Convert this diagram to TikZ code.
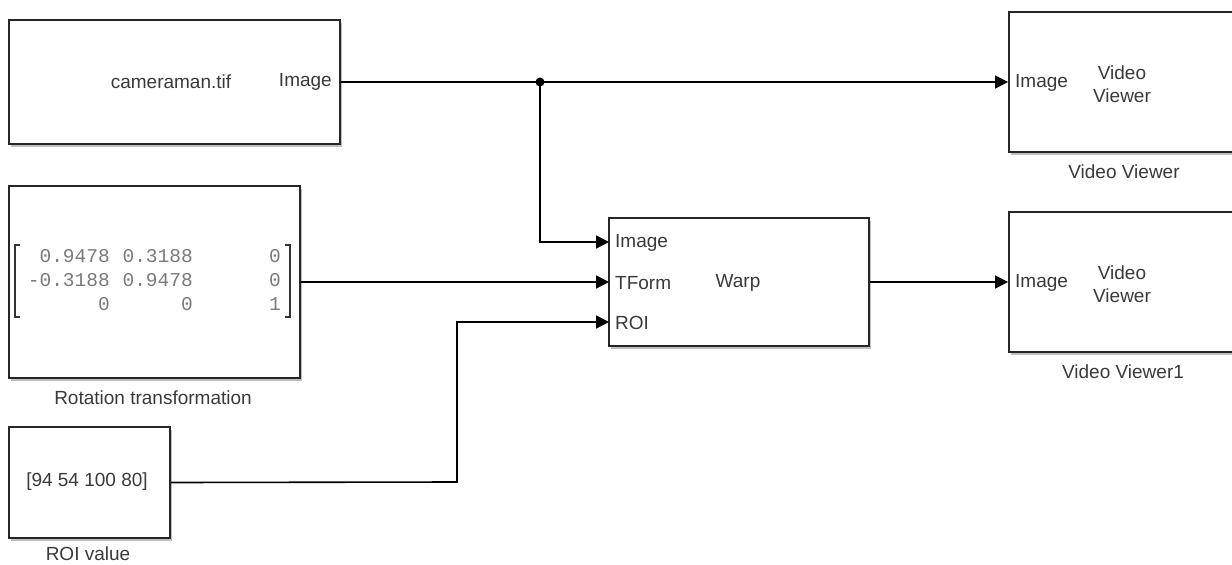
\documentclass[tikz,border=0pt]{standalone}
\usepackage{fontspec}
\setmainfont{Liberation Sans}
\newfontfamily\monof{Liberation Mono}
\usetikzlibrary{arrows.meta,shadows}
\definecolor{txt}{HTML}{3A3A3A}
\definecolor{mtx}{HTML}{7A7A7A}
\begin{document}
\begin{tikzpicture}[x=1pt,y=-1pt,
  blk/.style={draw=black!85,line width=1.8pt,fill=white,inner sep=0pt,
    drop shadow={shadow xshift=2pt,shadow yshift=-3pt,opacity=0.25,fill=black}},
  lbl/.style={text=txt,inner sep=0pt,font=\fontsize{19}{23}\selectfont},
  mx/.style={text=mtx,inner sep=0pt,anchor=east,font=\monof\fontsize{19.5}{23}\selectfont},
  wire/.style={line width=1.6pt,draw=black},
  arr/.style={wire,-{Triangle[length=13pt,width=13pt]}}]
\clip (0,0) rectangle (1232,565);
\fill[white] (0,0) rectangle (1232,565);
% blocks
\node[blk,minimum width=331pt,minimum height=124pt] (cam) at (174.5,82) {};
\node[blk,minimum width=291pt,minimum height=192pt] (rot) at (154.5,282) {};
\node[blk,minimum width=161pt,minimum height=111pt] (roi) at (89.5,482.5) {};
\node[blk,minimum width=260pt,minimum height=128pt] (warp) at (739,282) {};
\node[blk,minimum width=240pt,minimum height=140pt] (vv) at (1129,82) {};
\node[blk,minimum width=240pt,minimum height=140pt] (vvb) at (1129,282) {};
% texts
\node[lbl] (camt) at (171,82) {cameraman.tif};
\node[lbl,anchor=east] (camp) at (332,82) {Image};
\node[lbl] (roit) at (87,482) {[94 54 100 80]};
\node[lbl] (roil) at (88,554) {ROI value};
\node[lbl] (rotl) at (153,398) {Rotation transformation};
\node[lbl,anchor=west] (wp1) at (615,243) {Image};
\node[lbl,anchor=west] (wp2) at (615,283) {TForm};
\node[lbl,anchor=west] (wp3) at (615,323) {ROI};
\node[lbl] (wt) at (738,283) {Warp};
\node[lbl,anchor=west] (vvp) at (1015,83) {Image};
\node[lbl,align=center,font=\fontsize{19}{23}\selectfont] (vvt) at (1122,84) {Video\\Viewer};
\node[lbl] (vvl) at (1124,172) {Video Viewer};
\node[lbl,anchor=west] (vvbp) at (1015,283) {Image};
\node[lbl,align=center,font=\fontsize{19}{23}\selectfont] (vvbt) at (1122,284) {Video\\Viewer};
\node[lbl] (vvbl) at (1123,372) {Video Viewer1};
% matrix
\node[mx] (m11) at (110,256) {0.9478};
\node[mx] (m12) at (193,256) {0.3188};
\node[mx] (m13) at (281,256) {0};
\node[mx] (m21) at (110,280) {-0.3188};
\node[mx] (m22) at (193,280) {0.9478};
\node[mx] (m23) at (281,280) {0};
\node[mx] (m31) at (110,304) {0};
\node[mx] (m32) at (193,304) {0};
\node[mx] (m33) at (281,304) {1};
\draw[line width=1.3pt,draw=black!80] (20,245) -- (15,245) -- (15,317) -- (20,317);
\draw[line width=1.3pt,draw=black!80] (285,245) -- (290,245) -- (290,317) -- (285,317);
% connectors
\coordinate (j) at (540,82);
\coordinate (p1) at (609,242);
\coordinate (p2) at (609,282);
\coordinate (p3) at (609,322);
\coordinate (rb) at (457,482);
\draw[arr] (cam.east) -- (vv.west);
\draw[arr] (j) |- (p1);
\fill (j) circle (4.5pt);
\draw[arr] (rot.east) -- (p2);
\draw[arr] (roi.east) -- (rb) |- (p3);
\draw[arr] (warp.east) -- (vvb.west);
\end{tikzpicture}
\end{document}
